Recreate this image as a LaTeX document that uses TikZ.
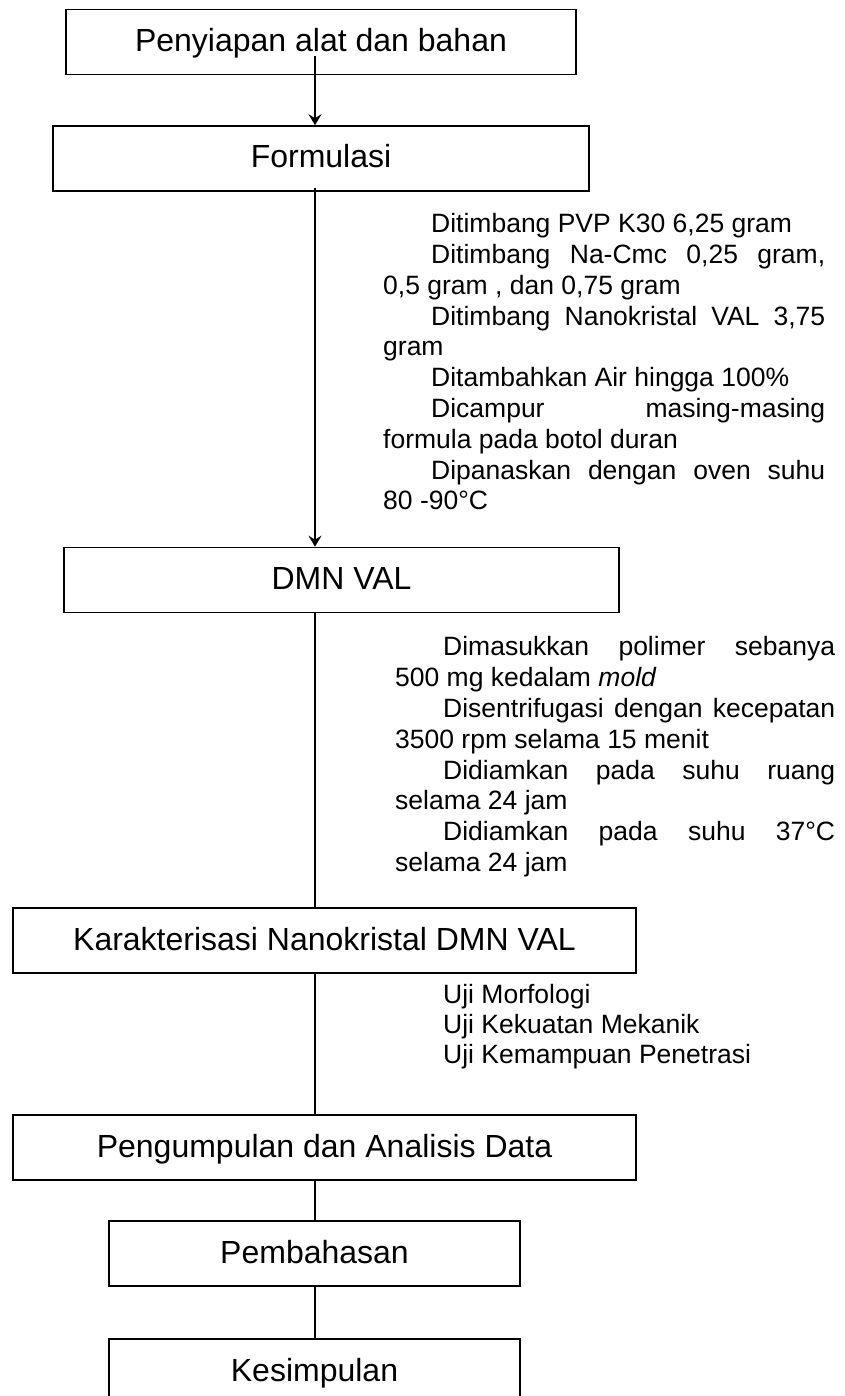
\documentclass[tikz,border=0pt]{standalone}
\usepackage{fontspec}
\setmainfont{Liberation Sans}
\usetikzlibrary{arrows.meta}
\hyphenpenalty=10000
\exhyphenpenalty=10000
\tolerance=10000
\newcommand{\indentstep}{\par\noindent\hspace*{48pt}}

\begin{document}
\begin{tikzpicture}[x=1pt,y=-1pt,
  box/.style={draw,line width=1.6pt,inner sep=0pt,minimum height=65pt,
    text height=23pt,text depth=4pt,font=\fontsize{32}{38}\selectfont},
  steps/.style={anchor=base west,inner sep=0pt,align=justify,
    font=\fontsize{26.5}{30.8}\selectfont},
  flow/.style={line width=1.6pt,-{Stealth[length=11pt,width=13pt,inset=4pt]}},
  link/.style={line width=1.6pt}]
\useasboundingbox (0,0) rectangle (845,1396);
\coordinate (spine) at (315,0);
\node[box,minimum width=510pt] (penyiapan) at (321,42) {Penyiapan alat dan bahan};
\node[box,minimum width=536pt] (formulasi) at (321,158.5) {Formulasi};
\node[box,minimum width=555pt] (dmn) at (341.5,580) {DMN VAL};
\node[box,minimum width=623pt] (karakterisasi) at (324.5,940.5) {Karakterisasi Nanokristal DMN VAL};
\node[box,minimum width=623pt] (pengumpulan) at (324.5,1147.5) {Pengumpulan dan Analisis Data};
\node[box,minimum width=411pt] (pembahasan) at (314.5,1253.5) {Pembahasan};
\node[box,minimum width=411pt] (kesimpulan) at (314.5,1371.5) {Kesimpulan};
\node[steps,text width=442pt] (formulasi-steps) at (383,202) {%
\indentstep Ditimbang PVP K30 6,25 gram
\indentstep Ditimbang Na-Cmc 0,25 gram,\linebreak 0,5 gram , dan 0,75 gram
\indentstep Ditimbang Nanokristal VAL 3,75\linebreak gram
\indentstep Ditambahkan Air hingga 100\%
\indentstep Dicampur masing-masing\linebreak formula pada botol duran
\indentstep Dipanaskan dengan oven suhu\linebreak 80 -90°C\par};
\node[steps,text width=440pt] (dmn-steps) at (395,625) {%
\indentstep Dimasukkan polimer sebanya\linebreak 500 mg kedalam \textit{mold}
\indentstep Disentrifugasi dengan kecepatan\linebreak 3500 rpm selama 15 menit
\indentstep Didiamkan pada suhu ruang\linebreak selama 24 jam
\indentstep Didiamkan pada suhu 37°C\linebreak selama 24 jam\par};
\node[steps,align=left,font=\fontsize{26.5}{30}\selectfont] (uji-steps) at (443,1063) {Uji Morfologi\\Uji Kekuatan Mekanik\\Uji Kemampuan Penetrasi};
\draw[flow] ([yshift=19pt]penyiapan.south -| spine) -- (formulasi.north -| spine);
\draw[flow] ([yshift=4pt]formulasi.south -| spine) -- (dmn.north -| spine);
\draw[link] (dmn.south -| spine) -- (karakterisasi.north -| spine);
\draw[link] (karakterisasi.south -| spine) -- (pengumpulan.north -| spine);
\draw[link] (pengumpulan.south -| spine) -- (pembahasan.north -| spine);
\draw[link] (pembahasan.south -| spine) -- (kesimpulan.north -| spine);
\end{tikzpicture}
\end{document}
